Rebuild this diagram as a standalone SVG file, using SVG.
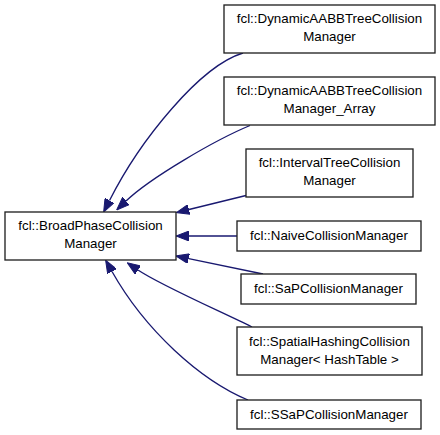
<svg xmlns="http://www.w3.org/2000/svg" width="440" height="435" viewBox="0 0 440 435">
<style>
.node rect{fill:#ffffff;stroke:#202020;stroke-width:1.33}
.node text{font-family:"Liberation Sans",Arial,Helvetica,sans-serif;font-size:13.33px;fill:#000000;text-anchor:middle}
.edge{fill:none;stroke:#191970;stroke-width:1.33;marker-end:url(#arr)}
</style>
<defs>
<marker id="arr" markerUnits="userSpaceOnUse" viewBox="0 0 13 10" refX="0" refY="5" markerWidth="13" markerHeight="10" orient="auto">
<path d="M0,0 L13,5 L0,10 z" fill="#191970" stroke="#191970" stroke-width="1"/>
</marker>
</defs>
<rect width="440" height="435" fill="#ffffff"/>
<g id="connectors">
<path class="edge" d="M243,53 C200,66 140,140 109.5,200.5"/>
<path class="edge" d="M250,125.5 C215,140 150,178 126,201"/>
<path class="edge" d="M246,195.5 L189,209.5"/>
<path class="edge" d="M237,236 L189,236"/>
<path class="edge" d="M263,274 L188.7,258.6"/>
<path class="edge" d="M252,327 C222,312 160,285 138,270"/>
<path class="edge" d="M248,400 C200,380 145,330 112,271.5"/>
</g>
<g id="node-base" class="node">
<rect x="5" y="212" width="171" height="48"/>
<text x="90.5" y="230">fcl::BroadPhaseCollision</text>
<text x="90.5" y="248">Manager</text>
</g>
<g id="node-dynamic" class="node">
<rect x="224" y="5" width="211" height="48"/>
<text x="329.5" y="23">fcl::DynamicAABBTreeCollision</text>
<text x="329.5" y="41">Manager</text>
</g>
<g id="node-dynamic-array" class="node">
<rect x="224" y="77" width="211" height="48"/>
<text x="329.5" y="95">fcl::DynamicAABBTreeCollision</text>
<text x="329.5" y="113">Manager_Array</text>
</g>
<g id="node-interval" class="node">
<rect x="246" y="149" width="167" height="48"/>
<text x="329.5" y="167">fcl::IntervalTreeCollision</text>
<text x="329.5" y="185">Manager</text>
</g>
<g id="node-naive" class="node">
<rect x="237" y="221" width="184" height="30"/>
<text x="329" y="240">fcl::NaiveCollisionManager</text>
</g>
<g id="node-sap" class="node">
<rect x="241" y="274" width="175" height="30"/>
<text x="328.5" y="293">fcl::SaPCollisionManager</text>
</g>
<g id="node-spatial" class="node">
<rect x="237" y="327" width="185" height="48"/>
<text x="329.5" y="346">fcl::SpatialHashingCollision</text>
<text x="329.5" y="364">Manager&lt; HashTable &gt;</text>
</g>
<g id="node-ssap" class="node">
<rect x="237" y="400" width="184" height="29"/>
<text x="329" y="419">fcl::SSaPCollisionManager</text>
</g>
</svg>
